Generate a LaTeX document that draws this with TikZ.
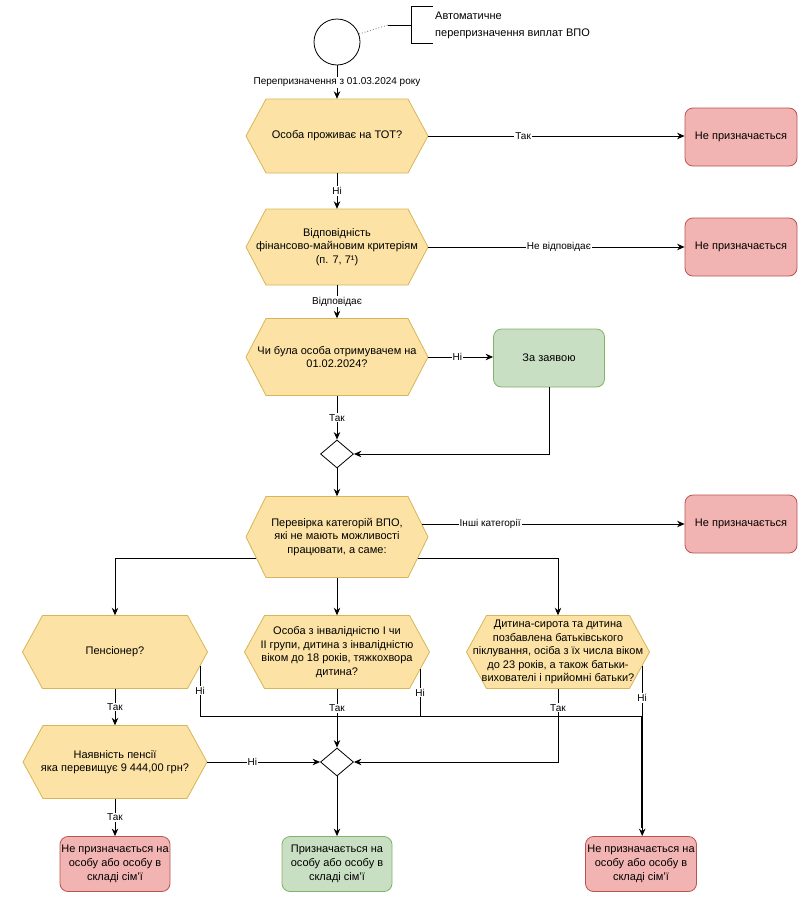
\documentclass[tikz,border=0pt]{standalone}
\usepackage{fontspec}
\setmainfont{Liberation Sans}
\usetikzlibrary{arrows.meta,calc,shapes.geometric}
\definecolor{hexfill}{HTML}{FCE3A5}
\definecolor{hexline}{HTML}{D6B656}
\definecolor{redfill}{HTML}{F2B4B2}
\definecolor{redline}{HTML}{B85450}
\definecolor{grnfill}{HTML}{C8DFC3}
\definecolor{grnline}{HTML}{82B366}
\newcommand\hexnode[6]{%
 \filldraw[hexshape] ({#2-#4/2},#3) -- ({#2-#4/2+20},{#3-#5/2}) -- ({#2+#4/2-20},{#3-#5/2}) -- ({#2+#4/2},#3) -- ({#2+#4/2-20},{#3+#5/2}) -- ({#2-#4/2+20},{#3+#5/2}) -- cycle;
 \node[hextext,minimum width=#4pt,minimum height=#5pt] (#1) at (#2,#3) {#6};}
\begin{document}
\begin{tikzpicture}[x=1pt,y=-1pt,
  hexshape/.style={fill=hexfill,draw=hexline,line width=0.8pt},
  hextext/.style={draw=none,inner sep=0pt,align=center,font=\fontsize{11}{13.5}\selectfont},
  redbox/.style={draw=redline,fill=redfill,rounded corners=8pt,line width=0.8pt,minimum width=112pt,minimum height=58pt,align=center,inner sep=0pt,font=\fontsize{11}{14}\selectfont},
  grnbox/.style={draw=grnline,fill=grnfill,rounded corners=8pt,line width=0.8pt,minimum width=111pt,minimum height=58pt,align=center,inner sep=0pt,font=\fontsize{11}{14}\selectfont},
  dec/.style={diamond,draw,fill=white,minimum width=33pt,minimum height=28pt,inner sep=0pt,line width=0.8pt},
  line/.style={draw,line width=0.9pt},
  arr/.style={draw,line width=0.9pt,-{Stealth[length=7.5pt,width=6.5pt]}},
  lbl/.style={fill=white,inner sep=1pt,font=\fontsize{10}{11}\selectfont}]
\useasboundingbox (0,0) rectangle (805,900);
% start and annotation
\node[circle,draw,line width=0.8pt,minimum size=46pt,inner sep=0pt,fill=white] (start) at (337,42) {};
\coordinate (annL) at (388,25);
\coordinate (brM) at (411,25);
\coordinate (brT) at (433,6);
\coordinate (brB) at (433,43);
\draw[dotted,line width=0.9pt,gray] (start.20) -- (annL);
\draw[line width=0.8pt] (annL) -- (brM);
\draw[line width=0.8pt] (brT) -- (brT -| brM) -- (brB -| brM) -- (brB);
\node[anchor=west,align=left,inner sep=2pt,font=\fontsize{11}{17}\selectfont] (anntext) at (433,25) {Автоматичне\\перепризначення виплат ВПО};
% hexagons
\hexnode{hex1}{337}{136}{182}{74}{Особа проживає на ТОТ?}
\hexnode{hex2}{337}{247}{182}{76}{Відповідність\\фінансово-майновим критеріям\\(п. 7, 7¹)}
\hexnode{hex3}{337}{357}{182}{77}{Чи була особа отримувачем на\\01.02.2024?}
\hexnode{hex4}{337}{537}{182}{81}{Перевірка категорій ВПО,\\які не мають можливості\\працювати, а саме:}
\hexnode{hex5}{115}{652}{185}{73}{Пенсіонер?}
\hexnode{hex6}{337}{652}{185}{73}{Особа з інвалідністю І чи\\ІІ групи, дитина з інвалідністю\\віком до 18 років, тяжкохвора\\дитина?}
\hexnode{hex7}{558}{652}{183}{73}{Дитина-сирота та дитина\\позбавлена батьківського\\піклування, осіба з їх числа віком\\до 23 років, а також батьки-\\вихователі і прийомні батьки?}
\hexnode{hex8}{115}{762}{184}{73}{Наявність пенсії\\яка перевищує 9 444,00 грн?}
% boxes
\node[redbox] (red1) at (741,137) {Не призначається};
\node[redbox] (red2) at (741,247) {Не призначається};
\node[redbox] (red3) at (741,524) {Не призначається};
\node[grnbox] (grn1) at (549,358) {За заявою};
\node[redbox,minimum width=110pt,minimum height=55pt] (red4) at (115,864) {Не призначається на\\особу або особу в\\складі сім'ї};
\node[grnbox,minimum width=110pt,minimum height=55pt] (grn2) at (337,864) {Призначається на\\особу або особу в\\складі сім'ї};
\node[redbox,minimum width=111pt,minimum height=55pt] (red5) at (641,864) {Не призначається на\\особу або особу в\\складі сім'ї};
% merges
\node[dec] (dia1) at (337,454) {};
\node[dec] (dia2) at (337,762) {};
% connectors
\draw[arr] (start.south) -- node[lbl]{Перепризначення з 01.03.2024 року} (hex1.north);
\draw[arr] (hex1.east) -- node[lbl,pos=0.37]{Так} (red1.west |- hex1.east);
\draw[arr] (hex1.south) -- node[lbl]{Ні} (hex2.north);
\draw[arr] (hex2.east) -- node[lbl,pos=0.51]{Не відповідає} (red2.west);
\draw[arr] (hex2.south) -- node[lbl]{Відповідає} (hex3.north);
\draw[arr] (hex3.east) -- node[lbl,pos=0.45]{Ні} (grn1.west |- hex3.east);
\draw[arr] (hex3.south) -- node[lbl]{Так} (dia1.north);
\draw[arr] (grn1.south) |- (dia1.east);
\draw[arr] (dia1.south) -- (hex4.north);
\coordinate (h4a) at ($(hex4.east)+(-6.4,-13)$);
\draw[arr] (h4a) -- node[lbl,pos=0.26]{Інші категорії} (h4a -| red3.west);
\coordinate (h4l) at ($(hex4.west)+(10.4,21)$);
\coordinate (h4r) at ($(hex4.east)+(-10.4,21)$);
\draw[arr] (h4l) -| (hex5.north);
\draw[arr] (h4r) -| (hex7.north);
\draw[arr] (hex4.south) -- (hex6.north);
\draw[arr] (hex5.south) -- node[lbl]{Так} (hex8.north);
\coordinate (lvl) at (0,716);
\coordinate (h5n) at ($(hex5.east)+(-7.5,13.7)$);
\coordinate (h6n) at ($(hex6.east)+(-9.5,17.3)$);
\coordinate (h7n) at ($(hex7.east)+(-7.5,13.7)$);
\draw[line] (h5n) -- node[lbl]{Ні} (h5n |- lvl) -- (h7n |- lvl);
\draw[line] (h6n) -- node[lbl]{Ні} (h6n |- lvl);
\draw[line width=1.6pt] (h7n |- lvl) -- ($(h7n |- red5.north)+(0,-8)$);
\draw[arr] (h7n) -- node[lbl,pos=0.19]{Ні} (h7n |- red5.north);
\draw[arr] (hex6.south) -- node[lbl,pos=0.33]{Так} (dia2.north);
\draw[arr] (hex7.south) |- node[lbl,pos=0.13]{Так} (dia2.east);
\draw[arr] (hex8.east) -- node[lbl,pos=0.4]{Ні} (dia2.west);
\draw[arr] (hex8.south) -- node[lbl]{Так} (red4.north);
\draw[arr] (dia2.south) -- (grn2.north);
\end{tikzpicture}
\end{document}
